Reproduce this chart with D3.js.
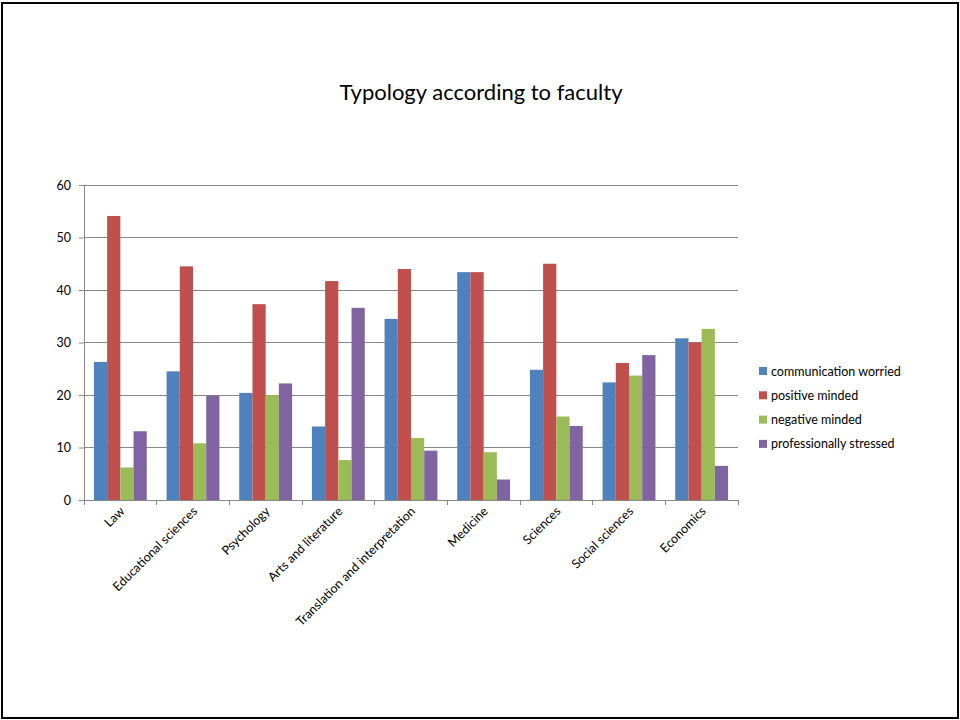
<!DOCTYPE html>
<html><head><meta charset="utf-8">
<script src="https://cdn.jsdelivr.net/npm/d3@7"></script>
<style>body{margin:0;background:#fff}svg{display:block}</style>
</head><body>
<script>
const categories = ["Law","Educational sciences","Psychology","Arts and literature","Translation and interpretation","Medicine","Sciences","Social sciences","Economics"];
const seriesNames = ["communication worried","positive minded","negative minded","professionally stressed"];
const communicationWorried = [26.3,24.5,20.4,14.0,34.5,43.4,24.8,22.4,30.8];
const positiveMinded = [54.1,44.5,37.3,41.7,44.0,43.4,45.0,26.1,30.0];
const negativeMinded = [6.2,10.8,20.0,7.6,11.8,9.1,15.9,23.7,32.6];
const professionallyStressed = [13.1,19.9,22.2,36.6,9.4,3.9,14.1,27.6,6.5];
const yTicks = [0,10,20,30,40,50,60];
const colors = ["#4F81BD","#C0504D","#9BBB59","#8064A2"];
const seriesValues = [communicationWorried, positiveMinded, negativeMinded, professionallyStressed];

const W = 960, H = 720;
const svg = d3.select("body").append("svg").attr("width", W).attr("height", H);
const font = "Lato, 'Open Sans', sans-serif";

svg.append("rect").attr("x",2).attr("y",3).attr("width",956).attr("height",715)
  .attr("fill","#fff").attr("stroke","#000").attr("stroke-width",2);

svg.append("text").attr("x",481).attr("y",100).attr("text-anchor","middle")
  .attr("font-family",font).attr("font-size",22).attr("fill","#000")
  .text("Typology according to faculty");

const pLeft = 84, pRight = 738, pTop = 185, pBottom = 500;
const x0 = d3.scaleBand().domain(categories).range([pLeft, pRight]).padding(0);
const y = d3.scaleLinear().domain([0,60]).range([pBottom, pTop]);

const g = svg.append("g");
g.selectAll("line.grid").data(yTicks).enter().append("line")
  .attr("x1", pLeft).attr("x2", pRight).attr("y1", d=>y(d)).attr("y2", d=>y(d))
  .attr("stroke","#878787").attr("stroke-width",1).attr("shape-rendering","crispEdges");

const bw = x0.bandwidth()/5.5;
const x1 = d3.scaleBand().domain(d3.range(4)).range([0.75*bw, 4.75*bw]);

categories.forEach((c, ci) => {
  seriesValues.forEach((vals, si) => {
    g.append("rect")
      .attr("x", x0(c) + x1(si))
      .attr("y", y(vals[ci]))
      .attr("width", x1.bandwidth())
      .attr("height", y(0) - y(vals[ci]))
      .attr("fill", colors[si]);
  });
});

const yAxis = d3.axisLeft(y).tickValues(yTicks).tickSize(5).tickPadding(8);
const ya = svg.append("g").attr("transform",`translate(${pLeft},0)`).call(yAxis);
ya.select(".domain").attr("stroke","#878787");
ya.selectAll(".tick line").attr("stroke","#878787");
ya.selectAll("text").attr("font-family",font).attr("font-size",12.5).attr("fill","#000");

const bounds = categories.map(c => x0(c)).concat([pRight]);
svg.append("line").attr("x1",pLeft).attr("x2",pRight).attr("y1",pBottom).attr("y2",pBottom)
  .attr("stroke","#878787").attr("shape-rendering","crispEdges");
svg.selectAll("line.xt").data(bounds).enter().append("line")
  .attr("x1",d=>d).attr("x2",d=>d).attr("y1",pBottom).attr("y2",pBottom+5)
  .attr("stroke","#878787").attr("shape-rendering","crispEdges");
svg.selectAll("text.xl").data(categories).enter().append("text")
  .attr("transform", d => `translate(${x0(d)+x0.bandwidth()/2+5},${pBottom+12}) rotate(-45)`)
  .attr("text-anchor","end").attr("font-family",font).attr("font-size",12.5).attr("fill","#000")
  .text(d=>d);

const lg = svg.append("g").attr("transform","translate(759,367)");
seriesNames.forEach((n,i) => {
  lg.append("rect").attr("x",0).attr("y",i*24.3).attr("width",8).attr("height",8).attr("fill",colors[i]);
  lg.append("text").attr("x",12).attr("y",i*24.3+8.5).attr("font-family",font).attr("font-size",12.5)
    .attr("fill","#000").text(n);
});
</script>
</body></html>
